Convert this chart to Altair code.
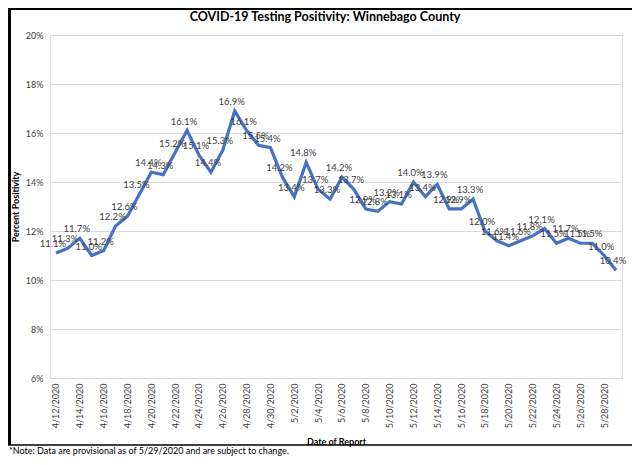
import altair as alt
import pandas as pd

dates = [
    "4/12/2020", "4/13/2020", "4/14/2020", "4/15/2020", "4/16/2020", "4/17/2020",
    "4/18/2020", "4/19/2020", "4/20/2020", "4/21/2020", "4/22/2020", "4/23/2020",
    "4/24/2020", "4/25/2020", "4/26/2020", "4/27/2020", "4/28/2020", "4/29/2020",
    "4/30/2020", "5/1/2020", "5/2/2020", "5/3/2020", "5/4/2020", "5/5/2020",
    "5/6/2020", "5/7/2020", "5/8/2020", "5/9/2020", "5/10/2020", "5/11/2020",
    "5/12/2020", "5/13/2020", "5/14/2020", "5/15/2020", "5/16/2020", "5/17/2020",
    "5/18/2020", "5/19/2020", "5/20/2020", "5/21/2020", "5/22/2020", "5/23/2020",
    "5/24/2020", "5/25/2020", "5/26/2020", "5/27/2020", "5/28/2020", "5/29/2020",
]
positivity = [
    11.1, 11.3, 11.7, 11.0, 11.2, 12.2, 12.6, 13.5, 14.4, 14.3, 15.2, 16.1,
    15.1, 14.4, 15.3, 16.9, 16.1, 15.5, 15.4, 14.2, 13.4, 14.8, 13.7, 13.3,
    14.2, 13.7, 12.9, 12.8, 13.2, 13.1, 14.0, 13.4, 13.9, 12.9, 12.9, 13.3,
    12.0, 11.6, 11.4, 11.6, 11.8, 12.1, 11.5, 11.7, 11.5, 11.5, 11.0, 10.4,
]
tick_labels = dates[::2]
y_ticks = [0.06, 0.08, 0.10, 0.12, 0.14, 0.16, 0.18, 0.20]
title_text = "COVID-19 Testing Positivity: Winnebago County"
note_text = "*Note: Data are provisional as of 5/29/2020 and are subject to change."

df = pd.DataFrame({"date": dates, "value": [v / 100 for v in positivity]})

FONT = "Lato"
TXT = "#404040"

x_enc = alt.X(
    "date:O",
    sort=dates,
    scale=alt.Scale(type="point", padding=0.5),
    axis=alt.Axis(
        values=tick_labels, labelAngle=-90, labelAlign="right", labelBaseline="middle",
        labelFontSize=9, labelColor=TXT, labelFont=FONT, labelPadding=5,
        labelOverlap=False,
        ticks=False, domain=False, grid=False,
        title="Date of Report", titleFontSize=9, titleFont=FONT, titleColor="#000000",
        titleFontWeight="bold", titlePadding=10,
    ),
)
y_enc = alt.Y(
    "value:Q",
    scale=alt.Scale(domain=[0.06, 0.20], nice=False, zero=False),
    axis=alt.Axis(
        values=y_ticks, format=".0%", labelFontSize=9, labelColor=TXT, labelFont=FONT,
        labelPadding=7, ticks=False, domain=False, grid=True, gridColor="#d9d9d9",
        title="Percent Positivity", titleFontSize=9, titleFont=FONT, titleColor="#000000",
        titleFontWeight="bold", titlePadding=5,
    ),
)

base = alt.Chart(df)
line = base.mark_line(color="#4472C4", strokeWidth=3.2).encode(x=x_enc, y=y_enc)
labels = base.mark_text(fontSize=9.5, font=FONT, color=TXT, dx=-3, dy=-9).encode(
    x=alt.X("date:O", sort=dates), y="value:Q", text=alt.Text("value:Q", format=".1%")
)

title = alt.Chart(pd.DataFrame({"t": [title_text]})).mark_text(
    align="center", baseline="middle", fontSize=12.5, font=FONT, fontWeight="bold", color="#000000"
).encode(x=alt.value(275), y=alt.value(-18), text="t:N")

note = alt.Chart(pd.DataFrame({"t": [note_text]})).mark_text(
    align="left", baseline="middle", fontSize=9, font=FONT, color="#000000"
).encode(x=alt.value(-41), y=alt.value(416), text="t:N")

frame_left = alt.Chart(pd.DataFrame({"a": [0]})).mark_rule(color="#000000", strokeWidth=3).encode(
    x=alt.value(-40.5), y=alt.value(-27), y2=alt.value(410)
)
frame_top = alt.Chart(pd.DataFrame({"a": [0]})).mark_rule(color="#000000", strokeWidth=2).encode(
    x=alt.value(-42), x2=alt.value(590), y=alt.value(-26)
)
frame_bottom = alt.Chart(pd.DataFrame({"a": [0]})).mark_rule(color="#000000", strokeWidth=1.5).encode(
    x=alt.value(-42), x2=alt.value(590), y=alt.value(410)
)

chart = alt.layer(line, labels, title, note, frame_left, frame_top, frame_bottom).properties(
    width=572, height=343,
    autosize=alt.AutoSizeParams(type="none"),
    padding={"left": 42, "top": 27, "right": 10, "bottom": 79},
).configure_view(stroke=None).configure(background="white")

chart.save("out.html", embed_options={"renderer": "svg", "actions": False})
